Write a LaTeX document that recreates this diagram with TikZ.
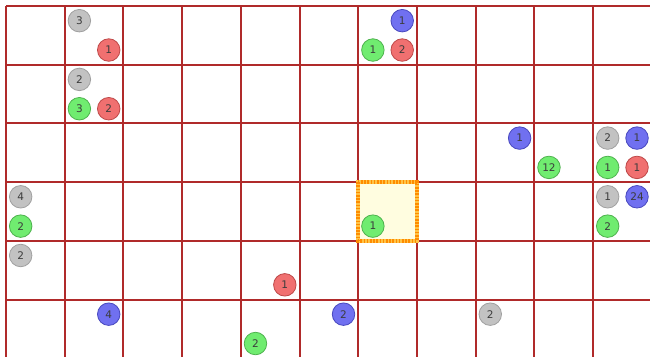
\documentclass[tikz,border=0pt]{standalone}
\usepackage{fontspec}
\setmainfont{DejaVu Sans}
\definecolor{gridred}{RGB}{176,42,42}
\definecolor{grayfill}{RGB}{194,194,194}
\definecolor{grayline}{RGB}{160,160,160}
\definecolor{redfill}{RGB}{240,112,112}
\definecolor{redline}{RGB}{190,72,72}
\definecolor{greenfill}{RGB}{112,236,112}
\definecolor{greenline}{RGB}{78,178,78}
\definecolor{bluefill}{RGB}{112,112,240}
\definecolor{blueline}{RGB}{72,72,190}
\definecolor{txt}{RGB}{60,60,60}
\definecolor{hlfill}{RGB}{255,253,224}
\definecolor{hlbase}{RGB}{255,196,70}
\definecolor{hldot}{RGB}{255,140,0}
\tikzset{
  gridline/.style={draw=gridred, line width=2pt},
  dot/.style={circle, minimum size=22.5pt, inner sep=0pt, line width=0.8pt,
    font=\fontsize{10.5}{11}\selectfont, text=txt},
  dgray/.style={dot, fill=grayfill, draw=grayline},
  dred/.style={dot, fill=redfill, draw=redline},
  dgreen/.style={dot, fill=greenfill, draw=greenline},
  dblue/.style={dot, fill=bluefill, draw=blueline},
}
\begin{document}
\begin{tikzpicture}[x=1pt,y=-1pt]
\useasboundingbox (0,0) rectangle (650,357);
\fill[white] (0,0) rectangle (650,357);
% grid
\foreach \k in {0,...,10} {
  \draw[gridline] ({6+58.7*\k},6) -- ({6+58.7*\k},357);
}
\foreach \r in {0,...,5} {
  \draw[gridline] (6,{6+58.7*\r}) -- (650,{6+58.7*\r});
}
% highlighted cell
\coordinate (hlnw) at ({6+58.7*6},{6+58.7*3});
\coordinate (hlse) at ({6+58.7*7},{6+58.7*4});
\filldraw[fill=hlfill, draw=hlbase, line width=3.5pt] (hlnw) rectangle (hlse);
\draw[hldot, line width=3.5pt, dash pattern=on 1.6pt off 1.6pt] (hlnw) rectangle (hlse);
% circles
\foreach \n/\s/\t/\c/\r/\qx/\qy in {
  ga/dgray/3/1/0/0/0, ra/dred/1/1/0/1/1,
  gb/dgray/2/1/1/0/0, na/dgreen/3/1/1/0/1, rb/dred/2/1/1/1/1,
  ba/dblue/1/6/0/1/0, nb/dgreen/1/6/0/0/1, rc/dred/2/6/0/1/1,
  bb/dblue/1/8/2/1/0, nc/dgreen/12/9/2/0/1,
  gc/dgray/2/10/2/0/0, bc/dblue/1/10/2/1/0, nd/dgreen/1/10/2/0/1, rd/dred/1/10/2/1/1,
  gd/dgray/1/10/3/0/0, bd/dblue/24/10/3/1/0, ne/dgreen/2/10/3/0/1,
  nf/dgreen/1/6/3/0/1,
  ge/dgray/4/0/3/0/0, ng/dgreen/2/0/3/0/1, gf/dgray/2/0/4/0/0,
  be/dblue/4/1/5/1/0, re/dred/1/4/4/1/1, bf/dblue/2/5/5/1/0,
  gg/dgray/2/8/5/0/0, nh/dgreen/2/4/5/0/1} {
  \node[\s] (\n) at ({6+58.7*(\c+0.25+0.5*\qx)},{6+58.7*(\r+0.25+0.5*\qy)}) {\t};
}
\end{tikzpicture}
\end{document}
